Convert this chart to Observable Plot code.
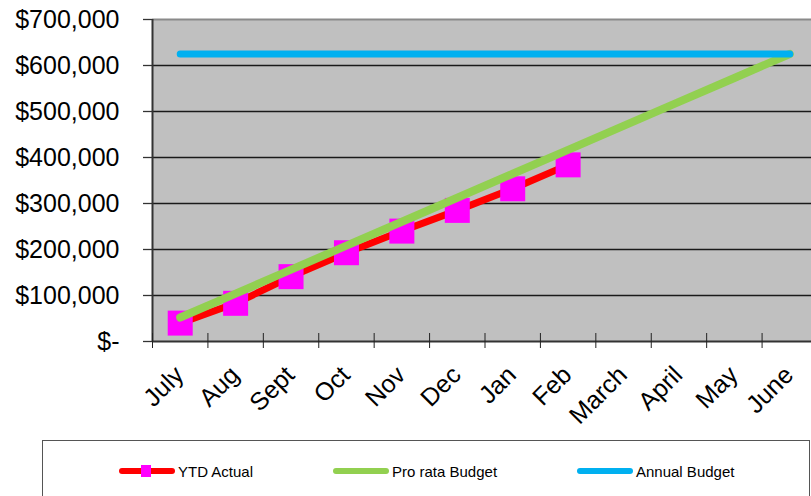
<!DOCTYPE html>
<html>
<head>
<meta charset="utf-8">
<script src="https://cdn.jsdelivr.net/npm/d3@7"></script>
<script src="https://cdn.jsdelivr.net/npm/@observablehq/plot@0.6"></script>
<style>
  html, body { margin: 0; padding: 0; background: #fff; overflow: hidden; }
  body { width: 811px; height: 496px; position: relative; font-family: "Liberation Sans", Arial, sans-serif; }
  #chart { position: absolute; left: 0; top: 0; }
  #legend { position: absolute; left: 42px; top: 440px; width: 768px; height: 70px; border: 1px solid #555; box-sizing: border-box; background: #fff; }
  .item { position: absolute; top: 22px; height: 16px; display: flex; align-items: center; font-size: 15px; color: #000; white-space: nowrap; }
  .item svg { margin-right: 2px; }
</style>
</head>
<body>
<div id="chart"></div>
<div id="legend"></div>
<script>
const months = ["July", "Aug", "Sept", "Oct", "Nov", "Dec", "Jan", "Feb", "March", "April", "May", "June"];
const ytdActual = [40000, 83000, 141000, 193000, 240000, 285000, 332000, 384000];
const proRataBudget = [52083, 104167, 156250, 208333, 260417, 312500, 364583, 416667, 468750, 520833, 572917, 625000];
const annualBudget = [625000, 625000, 625000, 625000, 625000, 625000, 625000, 625000, 625000, 625000, 625000, 625000];
const yTicks = [0, 100000, 200000, 300000, 400000, 500000, 600000, 700000];
const seriesNames = ["YTD Actual", "Pro rata Budget", "Annual Budget"];
const seriesColors = ["#FF0000", "#92D050", "#00B0F0"];
const markerColor = "#FF00FF";

const pos = (d, i) => i + 0.5;
const boundaries = months.map((_, i) => i).concat([months.length]);
const gridVals = yTicks.filter(v => v > 0 && v < 700000);
const fmt = v => v === 0 ? "$-" : "$" + d3.format(",")(v);

const chart = Plot.plot({
  width: 811,
  height: 438,
  marginLeft: 152,
  marginRight: 0,
  marginTop: 19,
  marginBottom: 97,
  style: { fontFamily: "Liberation Sans, Arial, sans-serif", background: "transparent", overflow: "visible" },
  x: { type: "linear", domain: [0, 12], range: [152, 817] },
  y: { domain: [0, 700000] },
  marks: [
    Plot.frame({ fill: "#C0C0C0", stroke: null }),
    Plot.ruleY(gridVals, { stroke: "#1a1a1a", strokeWidth: 1.3 }),
    Plot.ruleY([700000], { stroke: "#8a8a8a", strokeWidth: 2 }),
    Plot.axisY({ ticks: yTicks, tickFormat: fmt, tickSize: 9, tickPadding: 24, fontSize: 25, stroke: "#333", strokeWidth: 1.3, label: null, color: "#000" }),
    Plot.ruleX([0], { stroke: "#333", strokeWidth: 2 }),
    Plot.ruleY([0], { stroke: "#333", strokeWidth: 2 }),
    Plot.axisX({ ticks: boundaries, tickSize: 15, dy: -8, tickFormat: () => "", stroke: "#222", label: null }),
    Plot.line(ytdActual, { x: pos, y: d => d, stroke: seriesColors[0], strokeWidth: 7 }),
    Plot.dot(ytdActual, { x: pos, y: d => d, symbol: "square", r: 14.1, fill: markerColor, stroke: null }),
    Plot.line(proRataBudget, { x: pos, y: d => d, stroke: seriesColors[1], strokeWidth: 8, strokeLinecap: "round" }),
    Plot.line(annualBudget, { x: pos, y: d => d, stroke: seriesColors[2], strokeWidth: 7, strokeLinecap: "round" }),
    Plot.text(months, { x: pos, text: d => d, frameAnchor: "bottom", dy: 35, dx: 5, rotate: -45, textAnchor: "end", lineAnchor: "bottom", fontSize: 25, fill: "#000" })
  ]
});
document.getElementById("chart").appendChild(chart);

// Legend
const legend = document.getElementById("legend");
const legendLeft = [75, 289, 533];
seriesNames.forEach((name, i) => {
  const item = document.createElement("div");
  item.className = "item";
  item.style.left = legendLeft[i] + "px";
  const marker = i === 0 ? `<rect x="23" y="2" width="10" height="12" fill="${markerColor}"/>` : "";
  item.innerHTML = `<svg width="58" height="16"><line x1="4" y1="8" x2="54" y2="8" stroke="${seriesColors[i]}" stroke-width="6" stroke-linecap="round"/>${marker}</svg><span>${name}</span>`;
  legend.appendChild(item);
});
</script>
</body>
</html>
